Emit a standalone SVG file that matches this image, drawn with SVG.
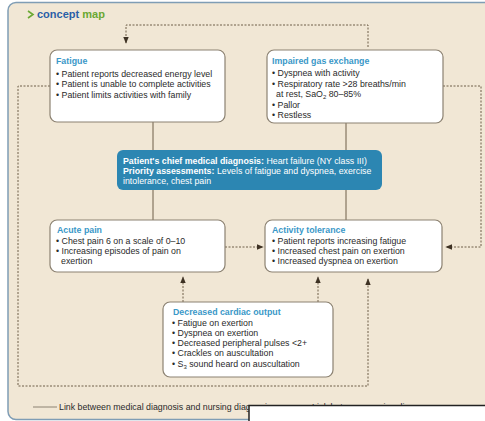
<svg xmlns="http://www.w3.org/2000/svg" width="485" height="421" viewBox="0 0 485 421">
<style>
text{font-family:"Liberation Sans",Arial,sans-serif;font-size:8.8px;fill:#2a2a2a}
.ttl{fill:#3a98c8;font-weight:bold}
.box{fill:#ffffff;stroke:#8c8272;stroke-width:1.2}
.solid{stroke:#6e5e48;stroke-width:1;fill:none}
.dash{stroke:#6e5e48;stroke-width:1;stroke-dasharray:2,1.5;fill:none}
.wt{fill:#ffffff}
.b{font-weight:bold}
</style>
<defs>
<marker id="ah" viewBox="0 0 10 10" refX="9" refY="5" markerWidth="7" markerHeight="7" orient="auto" markerUnits="userSpaceOnUse">
<path d="M0,1 L10,5 L0,9 z" fill="#3e3224"/>
</marker>
</defs>
<rect x="0" y="0" width="485" height="421" fill="#ffffff"/>
<rect x="8" y="2.5" width="500" height="417" rx="8" fill="#f1e7d5" stroke="#7f9db5" stroke-width="1.5"/>
<g id="title">
<path d="M28,11 L33,14.5 L28,18" fill="none" stroke="#6aa832" stroke-width="1.6"/>
<text x="37" y="18" style="font-size:11px;font-weight:bold"><tspan fill="#2a5fa8">concept</tspan><tspan fill="#6aa832"> map</tspan></text>
</g>
<g id="connectors">
<line class="solid" x1="153" y1="122" x2="153" y2="150"/>
<line class="solid" x1="153" y1="190" x2="153" y2="220"/>
<line class="solid" x1="346" y1="123" x2="346" y2="150"/>
<line class="solid" x1="346" y1="190" x2="346" y2="220"/>
<polyline class="dash" points="368,47 368,25 126,25 126,43" marker-end="url(#ah)"/>
<polyline class="dash" points="443,86 481,86 481,247 446,247" marker-end="url(#ah)"/>
<polyline class="dash" points="50,86 18,86 18,386 368,386 368,279" marker-end="url(#ah)"/>
<line class="dash" x1="225" y1="247" x2="263" y2="247" marker-end="url(#ah)"/>
<line class="dash" x1="183" y1="302" x2="183" y2="277" marker-end="url(#ah)"/>
<line class="dash" x1="318" y1="302" x2="318" y2="277" marker-end="url(#ah)"/>
</g>
<g id="fatigue">
<rect class="box" x="50" y="50" width="175" height="72" rx="7"/>
<text class="ttl" x="56" y="64">Fatigue</text>
<text x="56" y="76.5">• Patient reports decreased energy level</text>
<text x="56" y="87">• Patient is unable to complete activities</text>
<text x="56" y="97.5">• Patient limits activities with family</text>
</g>
<g id="impaired-gas-exchange">
<rect class="box" x="267" y="50" width="176" height="73" rx="7"/>
<text class="ttl" x="272" y="64">Impaired gas exchange</text>
<text x="272" y="76">• Dyspnea with activity</text>
<text x="272" y="86.5">• Respiratory rate &gt;28 breaths/min</text>
<text x="276" y="97">at rest, SaO<tspan font-size="6" dy="2">2</tspan><tspan dy="-2"> 80–85%</tspan></text>
<text x="272" y="107.5">• Pallor</text>
<text x="272" y="118">• Restless</text>
</g>
<g id="chief-diagnosis">
<rect x="117" y="150" width="265" height="40" rx="6" fill="#2c86b2"/>
<text x="123" y="164" class="wt"><tspan class="b wt">Patient's chief medical diagnosis:</tspan> Heart failure (NY class III)</text>
<text x="123" y="174" class="wt"><tspan class="b wt">Priority assessments:</tspan> Levels of fatigue and dyspnea, exercise</text>
<text x="123" y="184" class="wt">intolerance, chest pain</text>
</g>
<g id="acute-pain">
<rect class="box" x="50" y="220" width="175" height="52" rx="7"/>
<text class="ttl" x="57" y="232.5">Acute pain</text>
<text x="56" y="244">• Chest pain 6 on a scale of 0–10</text>
<text x="56" y="254">• Increasing episodes of pain on</text>
<text x="61" y="264">exertion</text>
</g>
<g id="activity-tolerance">
<rect class="box" x="265" y="220" width="177" height="52" rx="7"/>
<text class="ttl" x="272" y="232.5">Activity tolerance</text>
<text x="272" y="243.5">• Patient reports increasing fatigue</text>
<text x="272" y="254">• Increased chest pain on exertion</text>
<text x="272" y="264">• Increased dyspnea on exertion</text>
</g>
<g id="decreased-cardiac-output">
<rect class="box" x="163" y="302" width="170" height="75" rx="7"/>
<text class="ttl" x="173" y="315">Decreased cardiac output</text>
<text x="172" y="325.5">• Fatigue on exertion</text>
<text x="172" y="335.8">• Dyspnea on exertion</text>
<text x="172" y="346.1">• Decreased peripheral pulses &lt;2+</text>
<text x="172" y="356.4">• Crackles on auscultation</text>
<text x="172" y="366.7">• S<tspan font-size="6" dy="2">3</tspan><tspan dy="-2"> sound heard on auscultation</tspan></text>
</g>
<g id="legend">
<line x1="33" y1="407" x2="57" y2="407" stroke="#8c8272" stroke-width="1"/>
<text x="59" y="410">Link between medical diagnosis and nursing diagnosis</text>
<line class="dash" x1="275" y1="407" x2="308" y2="407"/>
<text x="312" y="410">Link between nursing diagnoses</text>
</g>
<g id="overlay">
<rect x="249" y="405" width="240" height="20" fill="#ffffff"/>
<polyline points="249,421 249,405.5 485,405.5" fill="none" stroke="#222222" stroke-width="1.5"/>
</g>
</svg>
